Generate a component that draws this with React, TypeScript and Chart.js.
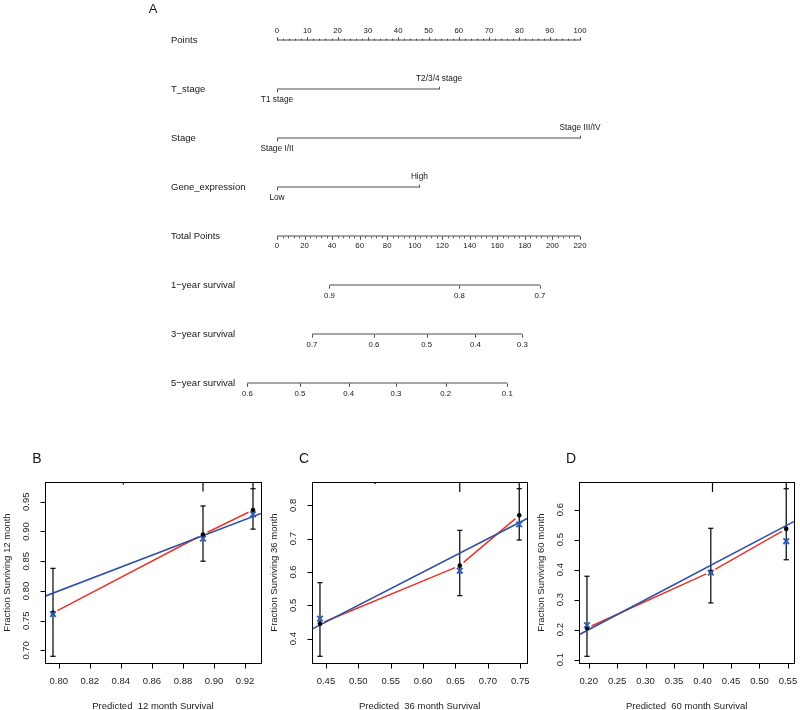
import React, { useEffect, useRef } from "react";
import { Chart, registerables } from "chart.js";
Chart.register(...registerables);

const FONT = "'Liberation Sans', Arial, Helvetica, sans-serif";
const INK = "#161616";
const AXIS = "#4a4a4a";
const RED = "#e5352b";
const BLUE = "#2f4fa3";
const XBLUE = "#2c5cb6";

// ---------------- Nomogram (panel A) ----------------
const rowNames = [
  "Points",
  "T_stage",
  "Stage",
  "Gene_expression",
  "Total Points",
  "1\u2212year survival",
  "3\u2212year survival",
  "5\u2212year survival",
];
const POINTS_MAX = 100;
const TOTAL_MAX = 220;
const pointsTicks = [0, 10, 20, 30, 40, 50, 60, 70, 80, 90, 100];
const tStageLevels = ["T1 stage", "T2/3/4 stage"];
const tStagePoints = [0, 53.5];
const stageLevels = ["Stage I/II", "Stage III/IV"];
const stagePoints = [0, 100];
const geneLevels = ["Low", "High"];
const genePoints = [0, 47];
const totalTicks = [0, 20, 40, 60, 80, 100, 120, 140, 160, 180, 200, 220];
const surv1Labels = ["0.9", "0.8", "0.7"];
const surv1Total = [37.97, 132.36, 190.96];
const surv3Labels = ["0.7", "0.6", "0.5", "0.4", "0.3"];
const surv3Total = [25.41, 70.43, 108.69, 143.98, 178.1];
const surv5Labels = ["0.6", "0.5", "0.4", "0.3", "0.2", "0.1"];
const surv5Total = [-21.56, 16.7, 52.06, 86.4, 122.49, 167.21];

// ---------------- Calibration (panels B, C, D) ----------------
const bPred = [0.7963, 0.8929, 0.9251];
const bObs = [0.763, 0.895, 0.936];
const bCorr = [0.761, 0.888, 0.929];
const bLow = [0.69, 0.85, 0.904];
const bHigh = [0.838, 0.943, 0.972];
const bRugX = [0.8416, 0.8929, 0.9251];
const bRugF = [0.25, 0.95, 0.65];
const bXTicks = [0.8, 0.82, 0.84, 0.86, 0.88, 0.9, 0.92];
const bYTicks = [0.7, 0.75, 0.8, 0.85, 0.9, 0.95];

const cPred = [0.4408, 0.6566, 0.7484];
const cObs = [0.445, 0.619, 0.77];
const cCorr = [0.46, 0.604, 0.743];
const cLow = [0.347, 0.529, 0.696];
const cHigh = [0.568, 0.725, 0.85];
const cRugX = [0.526, 0.6566, 0.7484];
const cRugF = [0.2, 1, 0.7];
const cXTicks = [0.45, 0.5, 0.55, 0.6, 0.65, 0.7, 0.75];
const cYTicks = [0.4, 0.5, 0.6, 0.7, 0.8];

const dPred = [0.197, 0.4145, 0.547];
const dObs = [0.205, 0.393, 0.536];
const dCorr = [0.215, 0.39, 0.495];
const dLow = [0.111, 0.289, 0.433];
const dHigh = [0.378, 0.538, 0.67];
const dRugX = [0.4175, 0.547];
const dRugF = [1, 0.6];
const dXTicks = [0.2, 0.25, 0.3, 0.35, 0.4, 0.45, 0.5, 0.55];
const dYTicks = [0.1, 0.2, 0.3, 0.4, 0.5, 0.6];

function txt(
  ctx: CanvasRenderingContext2D,
  s: string,
  x: number,
  y: number,
  size: number,
  align: CanvasTextAlign = "center",
  rot = 0,
  color = INK
) {
  ctx.save();
  ctx.font = `${size}px ${FONT}`;
  ctx.fillStyle = color;
  ctx.textAlign = align;
  ctx.textBaseline = "middle";
  ctx.translate(x, y);
  if (rot) ctx.rotate(rot);
  ctx.fillText(s, 0, 0);
  ctx.restore();
}

function seg(ctx: CanvasRenderingContext2D, x1: number, y1: number, x2: number, y2: number) {
  ctx.beginPath();
  ctx.moveTo(x1, y1);
  ctx.lineTo(x2, y2);
  ctx.stroke();
}

function Nomogram() {
  const ref = useRef<HTMLCanvasElement>(null);
  useEffect(() => {
    const canvas = ref.current!;
    const toPts = (t: number) => (t * POINTS_MAX) / TOTAL_MAX;
    const ranges: number[][] = [
      [0, POINTS_MAX],
      [Math.min(...tStagePoints), Math.max(...tStagePoints)],
      [Math.min(...stagePoints), Math.max(...stagePoints)],
      [Math.min(...genePoints), Math.max(...genePoints)],
      [0, toPts(TOTAL_MAX)],
      [toPts(Math.min(...surv1Total)), toPts(Math.max(...surv1Total))],
      [toPts(Math.min(...surv3Total)), toPts(Math.max(...surv3Total))],
      [toPts(Math.min(...surv5Total)), toPts(Math.max(...surv5Total))],
    ];
    const datasets = ranges.map((r, i) => ({
      type: "scatter" as const,
      showLine: true,
      data: [
        { x: r[0], y: i },
        { x: r[1], y: i },
      ],
      borderColor: AXIS,
      borderWidth: 1,
      pointRadius: 0,
      clip: false as any,
    }));

    const plugin = {
      id: "nomo",
      afterDatasetsDraw(chart: any) {
        const ctx: CanvasRenderingContext2D = chart.ctx;
        const xs = chart.scales.x;
        const ys = chart.scales.y;
        const X = (v: number) => xs.getPixelForValue(v);
        const Y = (i: number) => Math.round(ys.getPixelForValue(i)) + 0.5;
        ctx.save();
        ctx.strokeStyle = AXIS;
        ctx.lineWidth = 1;

        // panel letter
        txt(ctx, "A", 153, 9, 13);

        // variable names
        rowNames.forEach((n, i) => txt(ctx, n, 171, Y(i), 9.5, "left"));

        // Points axis (labels above, ticks up)
        const y0 = Y(0);
        for (let v = 0; v <= POINTS_MAX; v += 2) {
          const major = v % 10 === 0;
          const px = Math.round(X(v)) + 0.5;
          seg(ctx, px, y0, px, y0 - (major ? 3.2 : 1.8));
        }
        pointsTicks.forEach((v) => txt(ctx, String(v), X(v), y0 - 10, 7.8));

        // categorical variables
        const levelRows: [string[], number[]][] = [
          [tStageLevels, tStagePoints],
          [stageLevels, stagePoints],
          [geneLevels, genePoints],
        ];
        levelRows.forEach(([labels, pts], k) => {
          const yy = Y(k + 1);
          labels.forEach((lab, j) => {
            const px = Math.round(X(pts[j])) + 0.5;
            const dir = j === 0 ? 1 : -1;
            seg(ctx, px, yy, px, yy + dir * 2.8);
            txt(ctx, lab, X(pts[j]), yy + dir * 10.5, 8.3);
          });
        });

        // Total points axis (labels below, ticks down)
        const y4 = Y(4);
        for (let t = 0; t <= TOTAL_MAX; t += 4) {
          const major = t % 20 === 0;
          const px = Math.round(X(toPts(t))) + 0.5;
          seg(ctx, px, y4, px, y4 + (major ? 3.2 : 1.8));
        }
        totalTicks.forEach((t) => txt(ctx, String(t), X(toPts(t)), y4 + 9, 7.8));

        // survival axes
        const survRows: [string[], number[]][] = [
          [surv1Labels, surv1Total],
          [surv3Labels, surv3Total],
          [surv5Labels, surv5Total],
        ];
        survRows.forEach(([labels, tot], k) => {
          const yy = Y(k + 5);
          labels.forEach((lab, j) => {
            const px = Math.round(X(toPts(tot[j]))) + 0.5;
            seg(ctx, px, yy, px, yy + 3.2);
            txt(ctx, lab, X(toPts(tot[j])), yy + 10.5, 7.8);
          });
        });
        ctx.restore();
      },
    };

    const chart = new Chart(canvas, {
      type: "scatter",
      data: { datasets: datasets as any },
      options: {
        responsive: false,
        animation: false,
        events: [],
        layout: { padding: { left: 277, right: 220, top: 40, bottom: 42 } },
        scales: {
          x: { type: "linear", min: 0, max: POINTS_MAX, display: false },
          y: { type: "linear", min: 0, max: rowNames.length - 1, reverse: true, display: false },
        },
        plugins: { legend: { display: false }, tooltip: { enabled: false } },
      },
      plugins: [plugin as any],
    });
    return () => chart.destroy();
  }, []);
  return (
    <canvas
      ref={ref}
      width={800}
      height={425}
      style={{ position: "absolute", left: 0, top: 0, width: 800, height: 425 }}
    />
  );
}

type CalProps = {
  letter: string;
  months: number;
  pred: number[];
  obs: number[];
  corr: number[];
  low: number[];
  high: number[];
  rugX: number[];
  rugF: number[];
  xTicks: number[];
  yTicks: number[];
  xDigits: number;
  yDigits: number;
  canvasLeft: number;
  canvasWidth: number;
  boxLeft: number;
};

const CAN_TOP = 430;
const CAN_H = 280;
const BOX_TOP = 482;
const BOX_BOTTOM = 663;
const BOX_W = 216;

function padRange(vals: number[]) {
  const lo = Math.min(...vals);
  const hi = Math.max(...vals);
  const d = (hi - lo) * 0.04;
  return [lo - d, hi + d];
}

function Calibration(p: CalProps) {
  const ref = useRef<HTMLCanvasElement>(null);
  useEffect(() => {
    const canvas = ref.current!;
    const [xmin, xmax] = padRange(p.pred);
    const [ymin, ymax] = padRange([...p.low, ...p.high]);

    const plugin = {
      id: "cal" + p.letter,
      beforeDatasetsDraw(chart: any) {
        const ctx: CanvasRenderingContext2D = chart.ctx;
        const xs = chart.scales.x;
        const ys = chart.scales.y;
        const a = chart.chartArea;
        ctx.save();
        // error bars
        ctx.strokeStyle = "#000";
        ctx.lineWidth = 1.2;
        p.pred.forEach((v, i) => {
          const px = xs.getPixelForValue(v);
          const y1 = ys.getPixelForValue(p.low[i]);
          const y2 = ys.getPixelForValue(p.high[i]);
          seg(ctx, px, y1, px, y2);
          seg(ctx, px - 2.6, y1, px + 2.6, y1);
          seg(ctx, px - 2.6, y2, px + 2.6, y2);
        });
        // rug of predicted values on top
        ctx.lineWidth = 1.2;
        p.rugX.forEach((v, i) => {
          const px = xs.getPixelForValue(v);
          seg(ctx, px, a.top, px, a.top + p.rugF[i] * 10);
        });
        // observed line with gaps at points (type "b")
        ctx.strokeStyle = RED;
        ctx.lineWidth = 1.5;
        const GAP = 5;
        for (let i = 0; i < p.pred.length - 1; i++) {
          const x0 = xs.getPixelForValue(p.pred[i]);
          const y0 = ys.getPixelForValue(p.obs[i]);
          const x1 = xs.getPixelForValue(p.pred[i + 1]);
          const y1 = ys.getPixelForValue(p.obs[i + 1]);
          const dx = x1 - x0;
          const dy = y1 - y0;
          const d = Math.hypot(dx, dy);
          if (d <= 2 * GAP) continue;
          const ux = dx / d;
          const uy = dy / d;
          seg(ctx, x0 + ux * GAP, y0 + uy * GAP, x1 - ux * GAP, y1 - uy * GAP);
        }
        ctx.restore();
      },
      afterDraw(chart: any) {
        const ctx: CanvasRenderingContext2D = chart.ctx;
        const xs = chart.scales.x;
        const ys = chart.scales.y;
        const a = chart.chartArea;
        ctx.save();
        ctx.strokeStyle = "#000";
        ctx.lineWidth = 1;
        const L = Math.round(a.left) + 0.5;
        const R = Math.round(a.right) + 0.5;
        const T = Math.round(a.top) + 0.5;
        const B = Math.round(a.bottom) + 0.5;
        ctx.strokeRect(L, T, R - L, B - T);
        p.xTicks.forEach((v) => {
          const px = Math.round(xs.getPixelForValue(v)) + 0.5;
          seg(ctx, px, B, px, B + 5);
          txt(ctx, v.toFixed(p.xDigits), xs.getPixelForValue(v), B + 18, 9.5, "center", 0, "#222");
        });
        p.yTicks.forEach((v) => {
          const py = Math.round(ys.getPixelForValue(v)) + 0.5;
          seg(ctx, L, py, L - 5, py);
          txt(ctx, v.toFixed(p.yDigits), L - 19, ys.getPixelForValue(v), 9.5, "center", -Math.PI / 2, "#222");
        });
        const cx = (a.left + a.right) / 2;
        const cy = (a.top + a.bottom) / 2;
        txt(ctx, `Predicted  ${p.months} month Survival`, cx, B + 42.5, 9.5, "center", 0, "#222");
        txt(ctx, `Fraction Surviving ${p.months} month`, L - 38, cy, 9.5, "center", -Math.PI / 2, "#222");
        txt(ctx, p.letter, L - 8.5, 459.5 - CAN_TOP, 14, "center", 0, INK);
        ctx.restore();
      },
    };

    const chart = new Chart(canvas, {
      type: "scatter",
      data: {
        datasets: [
          {
            data: p.pred.map((x, i) => ({ x, y: p.corr[i] })),
            pointStyle: "crossRot",
            pointRadius: 4,
            borderColor: XBLUE,
            backgroundColor: XBLUE,
            borderWidth: 1.8,
          },
          {
            data: p.pred.map((x, i) => ({ x, y: p.obs[i] })),
            pointStyle: "circle",
            pointRadius: 2.3,
            backgroundColor: "#000",
            borderColor: "#000",
            borderWidth: 0,
          },
          {
            data: [
              { x: xmin, y: xmin },
              { x: xmax, y: xmax },
            ],
            showLine: true,
            borderColor: BLUE,
            borderWidth: 1.6,
            pointRadius: 0,
          },
        ] as any,
      },
      options: {
        responsive: false,
        animation: false,
        events: [],
        layout: {
          padding: {
            left: p.boxLeft - p.canvasLeft,
            right: p.canvasWidth - (p.boxLeft - p.canvasLeft) - BOX_W,
            top: BOX_TOP - CAN_TOP,
            bottom: CAN_H - (BOX_BOTTOM - CAN_TOP),
          },
        },
        scales: {
          x: { type: "linear", min: xmin, max: xmax, display: false },
          y: { type: "linear", min: ymin, max: ymax, display: false },
        },
        plugins: { legend: { display: false }, tooltip: { enabled: false } },
      },
      plugins: [plugin as any],
    });
    return () => chart.destroy();
  }, []);
  return (
    <canvas
      ref={ref}
      width={p.canvasWidth}
      height={CAN_H}
      style={{
        position: "absolute",
        left: p.canvasLeft,
        top: CAN_TOP,
        width: p.canvasWidth,
        height: CAN_H,
      }}
    />
  );
}

export default function App() {
  return (
    <div style={{ position: "absolute", left: 0, top: 0, width: 800, height: 710, background: "#fff" }}>
      <Nomogram />
      <Calibration
        letter="B"
        months={12}
        pred={bPred}
        obs={bObs}
        corr={bCorr}
        low={bLow}
        high={bHigh}
        rugX={bRugX}
        rugF={bRugF}
        xTicks={bXTicks}
        yTicks={bYTicks}
        xDigits={2}
        yDigits={2}
        canvasLeft={0}
        canvasWidth={267}
        boxLeft={45}
      />
      <Calibration
        letter="C"
        months={36}
        pred={cPred}
        obs={cObs}
        corr={cCorr}
        low={cLow}
        high={cHigh}
        rugX={cRugX}
        rugF={cRugF}
        xTicks={cXTicks}
        yTicks={cYTicks}
        xDigits={2}
        yDigits={1}
        canvasLeft={267}
        canvasWidth={266}
        boxLeft={312}
      />
      <Calibration
        letter="D"
        months={60}
        pred={dPred}
        obs={dObs}
        corr={dCorr}
        low={dLow}
        high={dHigh}
        rugX={dRugX}
        rugF={dRugF}
        xTicks={dXTicks}
        yTicks={dYTicks}
        xDigits={2}
        yDigits={1}
        canvasLeft={533}
        canvasWidth={267}
        boxLeft={579}
      />
    </div>
  );
}
